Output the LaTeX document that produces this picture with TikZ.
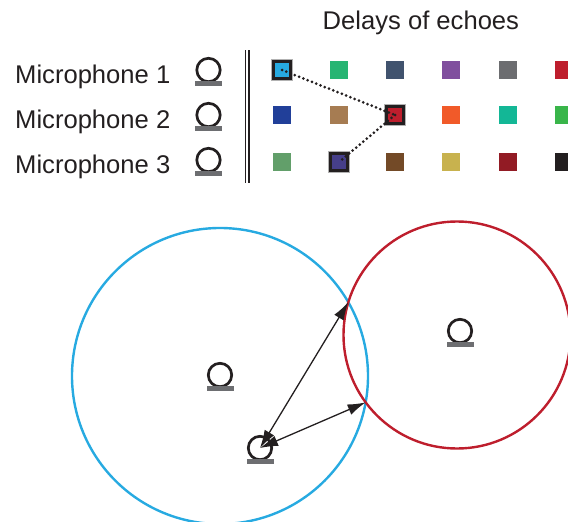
\documentclass[tikz,border=0pt]{standalone}
\usepackage{fontspec}
\setmainfont{Liberation Sans}
\usetikzlibrary{arrows.meta,intersections}

% palette
\definecolor{ink}{HTML}{231F20}
\definecolor{basegray}{HTML}{6D6E71}
\definecolor{skyblue}{HTML}{27AAE1}
\definecolor{crimson}{HTML}{BE1E2D}
\definecolor{cA}{HTML}{27AAE1}
\definecolor{cB}{HTML}{27B573}
\definecolor{cC}{HTML}{41536E}
\definecolor{cD}{HTML}{804F9E}
\definecolor{cE}{HTML}{6C6D70}
\definecolor{cF}{HTML}{BE1E2D}
\definecolor{cG}{HTML}{213F99}
\definecolor{cH}{HTML}{A67C52}
\definecolor{cI}{HTML}{BE1E2D}
\definecolor{cJ}{HTML}{F15A29}
\definecolor{cK}{HTML}{13B796}
\definecolor{cL}{HTML}{39B54A}
\definecolor{cM}{HTML}{629F6A}
\definecolor{cN}{HTML}{463F8A}
\definecolor{cO}{HTML}{734A27}
\definecolor{cP}{HTML}{C8B24E}
\definecolor{cQ}{HTML}{921B24}
\definecolor{cR}{HTML}{231F20}

\tikzset{
  lbl/.style={text=ink, font=\fontsize{25.6}{30}\selectfont, inner sep=0pt},
  micring/.style={circle, draw=ink, line width=2.7pt, minimum size=23.4pt, inner sep=0pt},
  micbar/.style={rectangle, fill=basegray, minimum width=27pt, minimum height=5pt, inner sep=0pt},
  cell/.style={rectangle, minimum size=18pt, inner sep=0pt},
  picked/.style={cell, draw=ink, line width=3pt, minimum size=17pt,
    preaction={draw=black!30, line width=4.6pt}},
  trail/.style={ink, line width=3pt, line cap=round, dash pattern=on 0pt off 4.6pt},
  divider/.style={ink, line width=1.1pt},
  hearing/.style={line width=2.4pt},
  echo/.style={ink, line width=1.3pt, {Latex[length=18pt,width=11pt]}-{Latex[length=18pt,width=11pt]}},
}

% microphone symbol: ring with a grey foot
\newcommand\micat[2]{%
  \node[micring] (#1) at (#2) {};
  \node[micbar] (#1-foot) at ([yshift=-13.5pt]#1.center) {};}

\begin{document}
\begin{tikzpicture}[x=1pt,y=-1pt]
\useasboundingbox (0,0) rectangle (568,522);

% header and legend
\node[lbl, anchor=base west] (title) at (322.5,29) {Delays of echoes};
\node[lbl, anchor=base west] (l1) at (15,83) {Microphone 1};
\node[lbl, anchor=base west] (l2) at (15,128) {Microphone 2};
\node[lbl, anchor=base west] (l3) at (15,173) {Microphone 3};

\micat{m1}{208.5,70}
\micat{m2}{208.5,115}
\micat{m3}{208.5,160}

% double rule
\draw[divider] (245.5,50) -- (245.5,183);
\draw[divider] (249,50) -- (249,183);

% delay grid
\foreach \col/\x in {A/282,B/339,C/395,D/451,E/508,F/564}{
  \node[cell, fill=c\col] (r1-\col) at (\x,70) {};}
\foreach \col/\x in {G/282,H/339,I/395,J/451,K/508,L/564}{
  \node[cell, fill=c\col] (r2-\col) at (\x,115) {};}
\foreach \col/\x in {M/282,N/339,O/395,P/451,Q/508,R/564}{
  \node[cell, fill=c\col] (r3-\col) at (\x,162) {};}

% chosen delays
\node[picked, fill=cA] (s1) at (282,70) {};
\node[picked, fill=cI] (s2) at (395,115) {};
\node[picked, fill=cN] (s3) at (339,162) {};
\draw[trail] (s1.center) -- (s2.center);
\draw[trail] (s2.center) -- (s3.center);

% hearing circles
\draw[hearing, skyblue, name path=bluecirc] (220,376) circle[radius=148pt];
\draw[hearing, crimson, name path=redcirc] (457,335) circle[radius=113.5pt];
\path[name intersections={of=bluecirc and redcirc, by={xa,xb}}];
\coordinate (hitA) at (xa);
\coordinate (hitB) at (xb);

\micat{mblue}{220,375}
\micat{mred}{460,331}
\micat{msrc}{260,448}

\draw[echo] (msrc.center) -- (hitA);
\draw[echo] (msrc.center) -- (hitB);
\end{tikzpicture}
\end{document}
